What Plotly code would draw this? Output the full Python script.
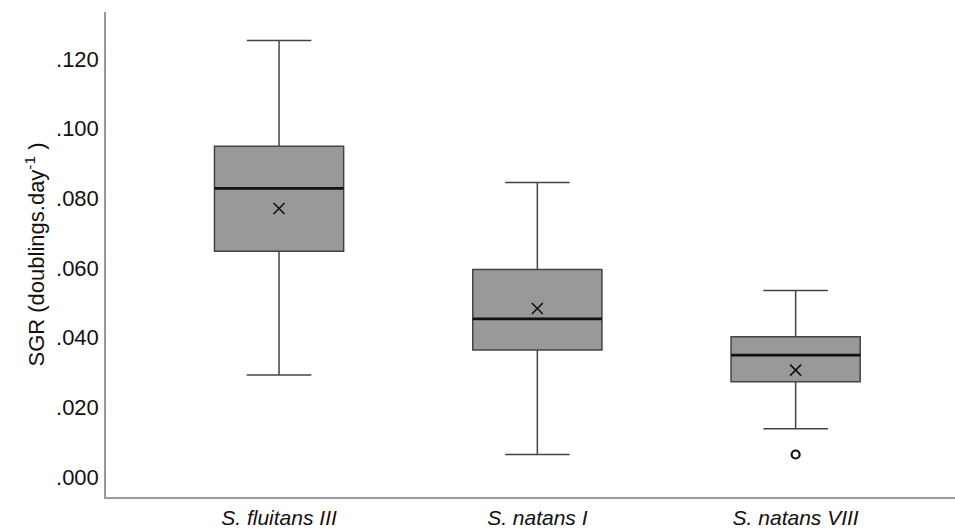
import plotly.graph_objects as go

categories = ["S. fluitans III", "S. natans I", "S. natans VIII"]
lower_fence = [0.0293, 0.0065, 0.0139]
q1 = [0.0648, 0.0365, 0.0274]
median = [0.0829, 0.0454, 0.0350]
q3 = [0.0950, 0.0596, 0.0403]
upper_fence = [0.1253, 0.0846, 0.0536]
means = [0.0771, 0.0484, 0.0307]
outlier_cat = ["S. natans VIII"]
outlier_val = [0.0065]
y_tickvals = [0.0, 0.02, 0.04, 0.06, 0.08, 0.10, 0.12]
y_ticktext = [".000", ".020", ".040", ".060", ".080", ".100", ".120"]

FONT = "Liberation Sans, Arial, sans-serif"

fig = go.Figure()
fig.add_trace(go.Box(
    x=categories, q1=q1, median=median, q3=q3,
    lowerfence=lower_fence, upperfence=upper_fence,
    fillcolor="#999999", line=dict(color="#444444", width=1.5),
    width=0.5, whiskerwidth=0.5, boxpoints=False, showlegend=False,
    hoverinfo="skip",
))
# thick black median line
fig.add_trace(go.Box(
    x=categories, q1=median, median=median, q3=median,
    lowerfence=median, upperfence=median,
    fillcolor="rgba(0,0,0,0)", line=dict(color="#111111", width=2.8),
    width=0.5, whiskerwidth=0, boxpoints=False, showlegend=False,
    hoverinfo="skip",
))
fig.add_trace(go.Scatter(
    x=categories, y=means, mode="markers",
    marker=dict(symbol="x-thin", size=11, line=dict(color="#111111", width=1.6)),
    showlegend=False,
))
fig.add_trace(go.Scatter(
    x=outlier_cat, y=outlier_val, mode="markers",
    marker=dict(symbol="circle-open", size=8, color="#111111", line=dict(width=2.2)),
    showlegend=False,
))

fig.update_layout(
    width=955, height=531,
    margin=dict(l=106, r=0, t=12, b=34, autoexpand=False),
    paper_bgcolor="white", plot_bgcolor="white",
    boxmode="overlay",
    font=dict(family=FONT, size=22, color="#111111"),
)
fig.update_xaxes(
    type="category", range=[-0.67, 2.617],
    showline=True, linecolor="#9a9a9a", linewidth=2,
    showgrid=False, zeroline=False, ticks="",
    tickfont=dict(family=FONT, size=21, style="italic"),
    ticklabelstandoff=1, automargin=False,
)
fig.update_yaxes(
    range=[-0.0057, 0.1335],
    tickvals=y_tickvals, ticktext=y_ticktext,
    showline=True, linecolor="#9a9a9a", linewidth=1.5,
    showgrid=False, zeroline=False, ticks="",
    ticklabelstandoff=1, automargin=False,
    title=dict(text="SGR (doublings.day<sup>-1</sup> )", standoff=5,
               font=dict(family=FONT, size=22)),
)
fig.write_html(
    "out.html",
    config={"displayModeBar": False},
    post_script="document.body.style.margin='0';document.body.style.overflow='hidden';",
)
